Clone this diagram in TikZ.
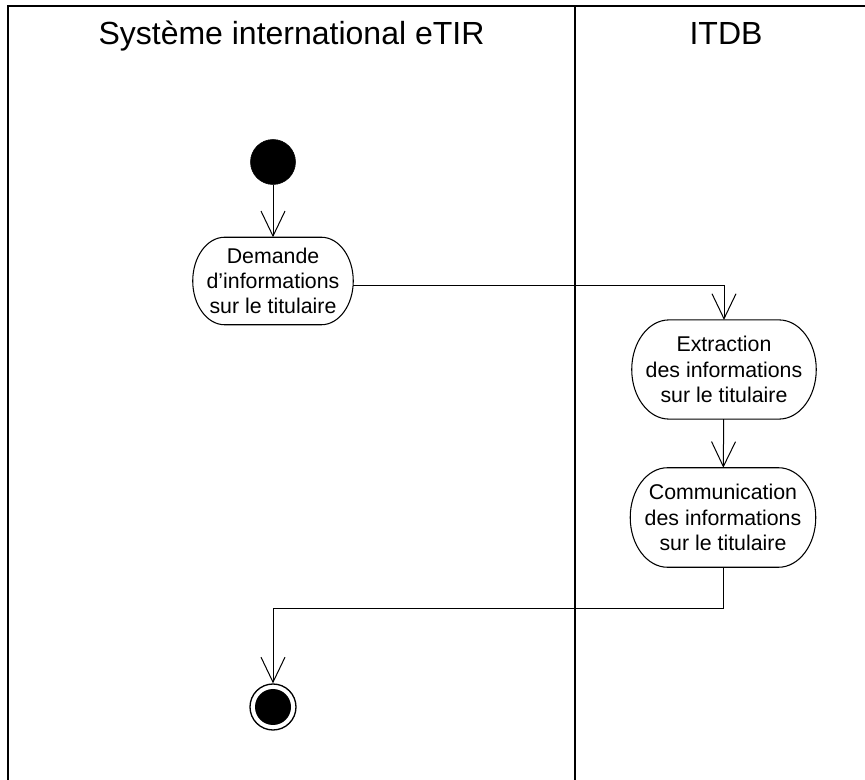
\documentclass[tikz,border=0pt]{standalone}
\usepackage{fontspec}
\setmainfont{Liberation Sans}
\usetikzlibrary{arrows.meta,calc}
\newcommand{\actoval}[2]{%
  \draw[actline] let \p1=(#1.north west), \p2=(#1.south east) in
    (\x1+#2,\y1) -- (\x2-#2,\y1)
    arc[start angle=90,end angle=-90,x radius=#2,y radius={(\y1-\y2)/2}]
    -- (\x1+#2,\y2)
    arc[start angle=270,end angle=90,x radius=#2,y radius={(\y1-\y2)/2}]
    -- cycle;}
\begin{document}
\begin{tikzpicture}[x=0.75pt,y=-0.75pt,
  frame/.style={draw=black,line width=1.2pt},
  lanetitle/.style={anchor=base,inner sep=0pt,font=\fontsize{24pt}{28pt}\selectfont},
  act/.style={align=center,inner sep=0pt,font=\fontsize{16pt}{19pt}\selectfont},
  actline/.style={draw=black,line width=0.8pt},
  startnode/.style={circle,fill=black,draw=black,inner sep=0pt,minimum size=33.75pt},
  endnode/.style={circle,draw=black,line width=1pt,inner sep=0pt,minimum size=34.5pt},
  flow/.style={draw=black,line width=0.75pt,-{Straight Barb[length=18.75pt,width=18pt,line width=0.75pt]}}
]
\useasboundingbox (0,0) rectangle (865,780);
% swimlane frame
\draw[frame] (8,780) -- (8,6) -- (866,6);
\draw[frame] (575,6) -- (575,780);
\node[lanetitle] (t1) at (291.5,45) {Système international eTIR};
\node[lanetitle] (t2) at (726,45) {ITDB};
% nodes
\node[startnode] (start) at (273,162) {};
\node[act,minimum width=120pt,minimum height=65.25pt] (a1) at (273,281)
  {Demande\\d’informations\\sur le titulaire};
\node[act,minimum width=138pt,minimum height=74pt] (a2) at (724,369.5)
  {Extraction\\des informations\\sur le titulaire};
\node[act,minimum width=138.75pt,minimum height=74.25pt] (a3) at (723,517.5)
  {Communication\\des informations\\sur le titulaire};
\actoval{a1}{24pt}
\actoval{a2}{28pt}
\actoval{a3}{28pt}
\node[endnode] (end) at (273,707) {};
\fill[black] (end.center) circle (13.5pt);
\coordinate (k) at (273,609);
% connectors
\draw[flow] (start) -- (a1);
\draw[flow] ($(a1.east)+(0,5)$) -| (a2.north);
\draw[flow] (a2) -- (a3);
\draw[flow] (a3.south) |- (k) -- (end);
\end{tikzpicture}
\end{document}
